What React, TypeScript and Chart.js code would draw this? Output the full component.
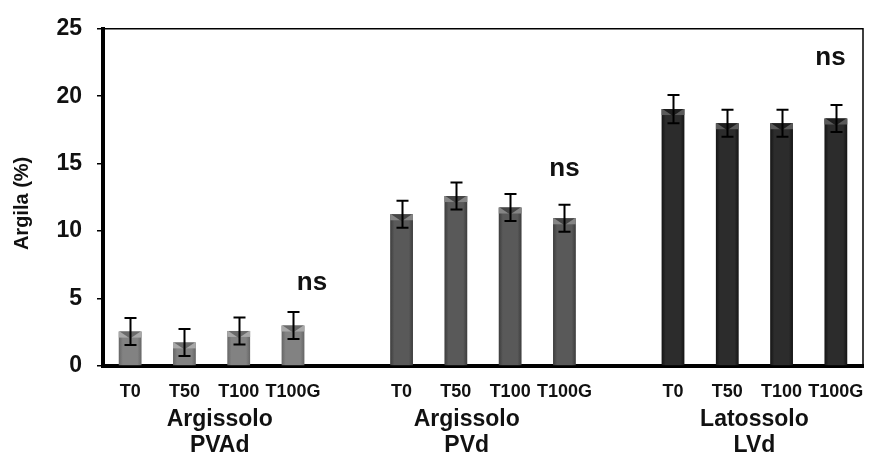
import React, { useEffect, useRef } from "react";
import { Chart, registerables } from "chart.js";

Chart.register(...registerables);

// ---------- data ----------
const categories = ["T0", "T50", "T100", "T100G", "", "T0", "T50", "T100", "T100G", "", "T0", "T50", "T100", "T100G"];
const argilaValues: (number | null)[] = [2.55, 1.75, 2.6, 3.0, null, 11.25, 12.6, 11.75, 10.95, null, 19.05, 18.0, 18.0, 18.35];
const argilaErrors: (number | null)[] = [1.0, 1.0, 1.0, 1.0, null, 1.0, 1.0, 1.0, 1.0, null, 1.05, 1.0, 1.0, 1.0];
const barGroup = [0, 0, 0, 0, -1, 1, 1, 1, 1, -1, 2, 2, 2, 2];
const groupLabels = [["Argissolo", "PVAd"], ["Argissolo", "PVd"], ["Latossolo", "LVd"]];
const groupLabelPos = [1.65, 6.2, 11.5];
const nsLabels = ["ns", "ns", "ns"];
const nsPosX = [3.35, 8.0, 12.9];
const nsPosY = [6.15, 14.6, 22.85];
const yMin = 0;
const yMax = 25;
const yStep = 5;
const yTitle = "Argila (%)";

// ---------- styles ----------
const FONT = "'Liberation Sans', Arial, Helvetica, sans-serif";
const groupColors = [
  { edge: "#656565", mid: "#828282", light: "#a8a8a8", dark: "#6a6a6a" },
  { edge: "#3c3c3c", mid: "#595959", light: "#858585", dark: "#454545" },
  { edge: "#141414", mid: "#2c2c2c", light: "#5a5a5a", dark: "#1e1e1e" },
];
const BAR_PCT = 0.42;

const overlayPlugin = {
  id: "overlay",
  afterDatasetsDraw(chart: any) {
    const ctx = chart.ctx;
    const xs = chart.scales.x;
    const ys = chart.scales.y;
    const meta = chart.getDatasetMeta(0);
    // top bevel of each bar
    meta.data.forEach((bar: any, i: number) => {
      const v = argilaValues[i];
      if (v == null) return;
      const col = groupColors[barGroup[i]];
      const { x, y, width } = bar.getProps(["x", "y", "width"], true);
      const l = x - width / 2;
      const r = x + width / 2;
      ctx.save();
      ctx.fillStyle = col.light;
      ctx.fillRect(l, y, width, 6);
      ctx.fillStyle = col.dark;
      ctx.beginPath();
      ctx.moveTo(l + 1, y);
      ctx.lineTo(r - 1, y);
      ctx.lineTo(x, y + 7);
      ctx.closePath();
      ctx.fill();
      ctx.restore();
    });
    // error bars
    ctx.save();
    ctx.strokeStyle = "#000";
    ctx.lineWidth = 2;
    argilaValues.forEach((v, i) => {
      const e = argilaErrors[i];
      if (v == null || e == null) return;
      const px = Math.round(xs.getPixelForValue(i)) + 0.5;
      const t = ys.getPixelForValue(v + e);
      const b = ys.getPixelForValue(v - e);
      ctx.beginPath();
      ctx.moveTo(px, t);
      ctx.lineTo(px, b);
      ctx.moveTo(px - 6, t);
      ctx.lineTo(px + 6, t);
      ctx.moveTo(px - 6, b);
      ctx.lineTo(px + 6, b);
      ctx.stroke();
    });
    ctx.restore();
  },
  afterDraw(chart: any) {
    const ctx = chart.ctx;
    const xs = chart.scales.x;
    const ys = chart.scales.y;
    const a = chart.chartArea;
    ctx.save();
    // thin top/right frame
    ctx.strokeStyle = "#000";
    ctx.lineWidth = 1.5;
    ctx.beginPath();
    ctx.moveTo(a.left, a.top);
    ctx.lineTo(a.right, a.top);
    ctx.lineTo(a.right, a.bottom);
    ctx.stroke();
    // ns labels
    ctx.fillStyle = "#111";
    ctx.font = `bold 26px ${FONT}`;
    ctx.textAlign = "center";
    ctx.textBaseline = "middle";
    nsLabels.forEach((t, i) => {
      ctx.fillText(t, xs.getPixelForValue(nsPosX[i]), ys.getPixelForValue(nsPosY[i]));
    });
    // group labels
    ctx.font = `bold 23px ${FONT}`;
    ctx.textBaseline = "alphabetic";
    groupLabels.forEach((lines, i) => {
      const gx = xs.getPixelForValue(groupLabelPos[i]);
      lines.forEach((line, j) => {
        ctx.fillText(line, gx, a.bottom + 60 + j * 26);
      });
    });
    // y title
    ctx.font = `bold 20px ${FONT}`;
    ctx.translate(28, (a.top + a.bottom) / 2 + 6);
    ctx.rotate(-Math.PI / 2);
    ctx.textAlign = "center";
    ctx.fillText(yTitle, 0, 0);
    ctx.restore();
  },
};

export default function App() {
  const canvasRef = useRef<HTMLCanvasElement | null>(null);

  useEffect(() => {
    const canvas = canvasRef.current;
    if (!canvas) return;
    const chart = new Chart(canvas, {
      type: "bar",
      data: {
        labels: categories,
        datasets: [
          {
            data: argilaValues as any,
            backgroundColor: (c: any) => {
              const i = c.dataIndex;
              const col = groupColors[Math.max(0, barGroup[i] ?? 0)];
              const chartObj = c.chart;
              const xs = chartObj.scales?.x;
              if (!xs || !chartObj.chartArea) return col.mid;
              const px = xs.getPixelForValue(i);
              const w = (xs.width / categories.length) * BAR_PCT;
              const g = chartObj.ctx.createLinearGradient(px - w / 2, 0, px + w / 2, 0);
              g.addColorStop(0, col.edge);
              g.addColorStop(0.18, col.mid);
              g.addColorStop(0.82, col.mid);
              g.addColorStop(1, col.edge);
              return g;
            },
            borderWidth: 0,
            barPercentage: BAR_PCT,
            categoryPercentage: 1,
          },
        ],
      },
      options: {
        responsive: false,
        animation: false,
        layout: { padding: { left: 0, right: 10, top: 22, bottom: 0 } },
        plugins: { legend: { display: false }, tooltip: { enabled: false } },
        scales: {
          x: {
            grid: { display: false },
            border: { display: true, color: "#000", width: 4 },
            ticks: {
              color: "#111",
              font: { family: FONT, size: 18, weight: "bold" },
              padding: 7,
              maxRotation: 0,
              autoSkip: false,
            },
            afterFit: (s: any) => {
              s.height = 89;
            },
          },
          y: {
            min: yMin,
            max: yMax,
            grid: { display: true, drawOnChartArea: false, drawTicks: true, tickLength: 6, color: "#000", lineWidth: 1.5 },
            border: { display: true, color: "#000", width: 4 },
            ticks: {
              stepSize: yStep,
              color: "#111",
              font: { family: FONT, size: 23, weight: "bold" },
              padding: 15,
            },
            afterFit: (s: any) => {
              s.width = 103;
            },
          },
        },
      },
      plugins: [overlayPlugin],
    } as any);
    return () => chart.destroy();
  }, []);

  return (
    <canvas
      ref={canvasRef}
      width={873}
      height={455}
      style={{ position: "absolute", left: 0, top: 0, width: 873, height: 455, background: "#fff" }}
    />
  );
}
